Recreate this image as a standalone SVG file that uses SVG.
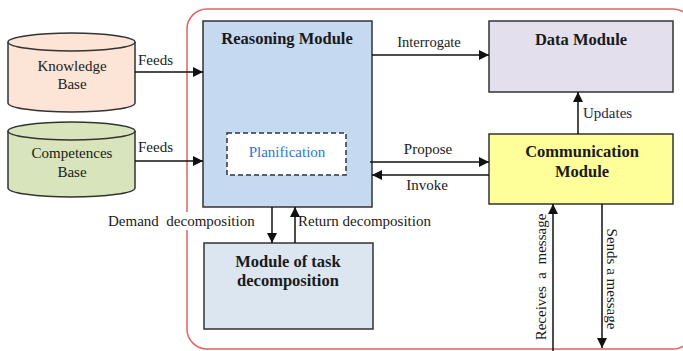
<svg xmlns="http://www.w3.org/2000/svg" width="683" height="351" viewBox="0 0 683 351">
<defs>
<marker id="ah" viewBox="0 0 10 10" refX="10" refY="5" markerWidth="10" markerHeight="10" markerUnits="userSpaceOnUse" orient="auto">
<path d="M0,0 L10,5 L0,10 Z" fill="#111"/>
</marker>
<style>
text{font-family:"Liberation Serif","Times New Roman",serif;fill:#1a1a1a}
.b{font-weight:bold;font-size:16.5px;text-anchor:middle}
.r{font-size:15px}
.c{text-anchor:middle}
.box{stroke:#333;stroke-width:1.5}
.ln{stroke:#111;stroke-width:1.5;fill:none}
</style>
</defs>
<rect width="683" height="351" fill="#fff"/>
<rect x="187" y="9" width="506" height="340" rx="20" ry="20" fill="none" stroke="#e06464" stroke-width="1.5"/>

<g id="knowledge-base">
<path d="M8,42 L8,103 A63.5,9 0 0 0 135,103 L135,42" fill="#fce4d6" class="box"/>
<ellipse cx="71.5" cy="42" rx="63.5" ry="9" fill="#fce4d6" class="box"/>
<text x="72" y="71" class="r c">Knowledge</text>
<text x="72" y="89" class="r c">Base</text>
</g>
<g id="competences-base">
<path d="M8,131 L8,188 A63.5,9 0 0 0 135,188 L135,131" fill="#d8e4bc" class="box"/>
<ellipse cx="71.5" cy="131" rx="63.5" ry="9" fill="#d8e4bc" class="box"/>
<text x="72" y="158" class="r c">Competences</text>
<text x="72" y="177" class="r c">Base</text>
</g>
<g id="reasoning-module">
<rect x="203" y="21" width="169" height="186" fill="#c5d9f1" class="box"/>
<text x="287" y="44" class="b">Reasoning Module</text>
</g>
<g id="planification">
<rect x="227" y="133" width="119" height="42" fill="#fff" stroke="#333" stroke-width="1.5" stroke-dasharray="5,3"/>
<text x="287" y="157" class="r c" style="fill:#2b78d0">Planification</text>
</g>
<g id="data-module">
<rect x="489" y="21" width="184" height="71" fill="#e4dfec" class="box"/>
<text x="581" y="45" class="b">Data Module</text>
</g>
<g id="communication-module">
<rect x="489" y="134" width="184" height="70" fill="#ffff99" class="box"/>
<text x="582" y="157" class="b">Communication</text>
<text x="582" y="177" class="b">Module</text>
</g>
<g id="task-decomposition">
<rect x="204" y="243" width="169" height="86" fill="#dce6f1" class="box"/>
<text x="288" y="267" class="b">Module of task</text>
<text x="288" y="286" class="b">decomposition</text>
</g>

<g id="connectors">
<line x1="135" y1="72" x2="203" y2="72" class="ln" marker-end="url(#ah)"/>
<line x1="135" y1="161" x2="203" y2="161" class="ln" marker-end="url(#ah)"/>
<line x1="372" y1="55" x2="489" y2="55" class="ln" marker-end="url(#ah)"/>
<line x1="370" y1="162" x2="489" y2="162" class="ln" marker-end="url(#ah)"/>
<line x1="489" y1="175" x2="372" y2="175" class="ln" marker-end="url(#ah)"/>
<line x1="578" y1="134" x2="578" y2="92" class="ln" marker-end="url(#ah)"/>
<line x1="272" y1="207" x2="272" y2="243" class="ln" marker-end="url(#ah)"/>
<line x1="295" y1="243" x2="295" y2="207" class="ln" marker-end="url(#ah)"/>
<line x1="553" y1="351" x2="553" y2="204" class="ln" marker-end="url(#ah)"/>
<line x1="602" y1="204" x2="602" y2="348" class="ln" marker-end="url(#ah)"/>
</g>

<g id="labels">
<text x="138" y="65" class="r">Feeds</text>
<text x="138" y="152" class="r">Feeds</text>
<text x="429" y="47" class="c" style="font-size:14.5px">Interrogate</text>
<text x="428" y="154" class="r c">Propose</text>
<text x="427" y="190" class="r c">Invoke</text>
<text x="583" y="118" class="r" style="fill:#1c2a4a">Updates</text>
<rect x="106" y="212" width="156" height="18" fill="#fff"/>
<text x="108" y="226" class="r" xml:space="preserve">Demand  decomposition</text>
<text x="298" y="226" class="r">Return decomposition</text>
<text transform="translate(546,277) rotate(-90)" class="r c" xml:space="preserve">Receives  a  message</text>
<text transform="translate(607,279) rotate(90)" class="r c">Sends a message</text>
</g>
</svg>
